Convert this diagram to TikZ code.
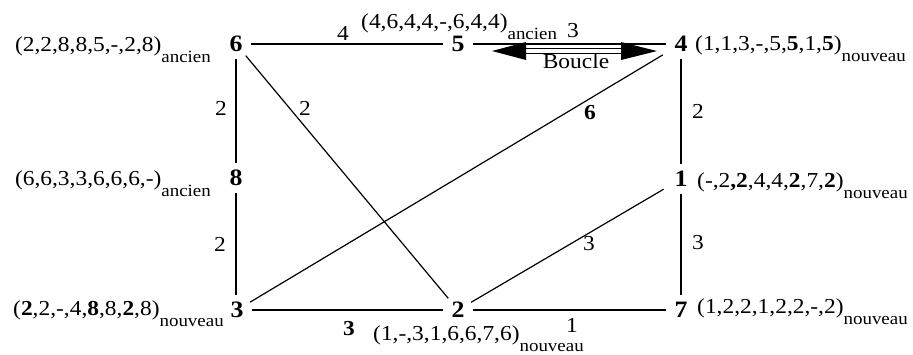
\documentclass[tikz,border=0pt]{standalone}
\usepackage{fontspec}
\setmainfont{Liberation Serif}[FakeStretch=1.1]
\newcommand{\mainsz}{\fontsize{21.3}{22}\selectfont}
\newcommand{\vtxsz}{\fontsize{23.5}{24}\selectfont}
\newcommand{\subsz}{\fontsize{17.2}{18}\selectfont}
\newcommand{\tp}[2]{(#1)\raisebox{-11pt}{\subsz #2}}
\begin{document}
\begin{tikzpicture}[x=1pt,y=-1pt,
  vtx/.style={circle,minimum size=30pt,inner sep=0pt,font=\vtxsz\bfseries},
  heavy/.style={line width=2.6pt},
  light/.style={line width=1.2pt},
  wt/.style={inner sep=0pt,font=\mainsz},
  wtb/.style={inner sep=0pt,font=\mainsz\bfseries},
  tup/.style={inner sep=0pt,font=\mainsz}]
\useasboundingbox (0,0) rectangle (913,354);
% vertices
\node[vtx] (n6) at (236,44) {6};
\node[vtx] (n5) at (458,44) {5};
\node[vtx] (n4) at (681,44) {4};
\node[vtx] (n8) at (236,178) {8};
\node[vtx] (n1) at (681,179) {1};
\node[vtx] (n3) at (237,310) {3};
\node[vtx] (n2) at (458,310) {2};
\node[vtx] (n7) at (681,310) {7};
% heavy edges
\draw[heavy] (n6) -- (n5);
\draw[heavy] (n5) -- (n4);
\draw[heavy] (n6) -- (n8);
\draw[heavy] (n8) -- (n8 |- n3.north);
\draw[heavy] (n3) -- (n2);
\draw[heavy] (n4) -- (n1);
\draw[heavy] (n1) -- (n7);
\draw[heavy] (n2) -- (n7);
% light edges
\draw[light] (n6) -- (n2);
\draw[light,shorten >=6pt] (n3) -- (n4);
\draw[light,shorten >=5pt] (n2) -- (n1);
% weights
\node[wt] (w65) at (343,33) {4};
\node[wt] (w54) at (573,31) {3};
\node[wt] (w68) at (221,108) {2};
\node[wt] (w62) at (305,108) {2};
\node[wtb] (w34) at (590,113) {6};
\node[wt] (w41) at (698,111) {2};
\node[wt] (w83) at (220,244) {2};
\node[wt] (w21) at (589,244) {3};
\node[wt] (w17) at (698,243) {3};
\node[wtb] (w32) at (349,329) {3};
\node[wt] (w27) at (572,325) {1};
% tuples
\node[tup,anchor=base east] (l6) at (211,51) {\tp{2,2,8,8,5,-,2,8}{ancien}};
\node[tup,anchor=base west] (l5) at (361,28) {\tp{4,6,4,4,-,6,4,4}{ancien}};
\node[tup,anchor=base west] (l4) at (695,50) {\tp{1,1,3,-,5,\textbf{5},1,\textbf{5}}{nouveau}};
\node[tup,anchor=base east] (l8) at (211,185) {\tp{6,6,3,3,6,6,6,-}{ancien}};
\node[tup,anchor=base west] (l1) at (697,187) {\tp{-,2\textbf{,2},4,4,\textbf{2},7,\textbf{2}}{nouveau}};
\begin{scope}
\clip (0,285) rectangle (229,354);
\node[tup,anchor=base west] (l3) at (13,315) {\tp{\textbf{2},2,-,4,\textbf{8},8,\textbf{2},8}{nouveau}};
\end{scope}
\node[tup,anchor=base west] (l2) at (373,340) {\tp{1,-,3,1,6,6,7,6}{nouveau}};
\node[tup,anchor=base west] (l7) at (697,313) {\tp{1,2,2,1,2,2,-,2}{nouveau}};
% Boucle arrow
\coordinate (bl) at (492,51);
\coordinate (br) at (657,51);
\coordinate (bl2) at (524,51);
\coordinate (br2) at (623,51);
\draw[line width=1.5pt,double=white,double distance=3.5pt] (bl2) -- (br2);
\fill (bl) -- ([shift={(34,-9)}]bl) -- ([shift={(34,9)}]bl) -- cycle;
\fill (br) -- ([shift={(-36,-9)}]br) -- ([shift={(-36,9)}]br) -- cycle;
\node[tup,anchor=base] (bt) at (576,68) {Boucle};
\end{tikzpicture}
\end{document}
